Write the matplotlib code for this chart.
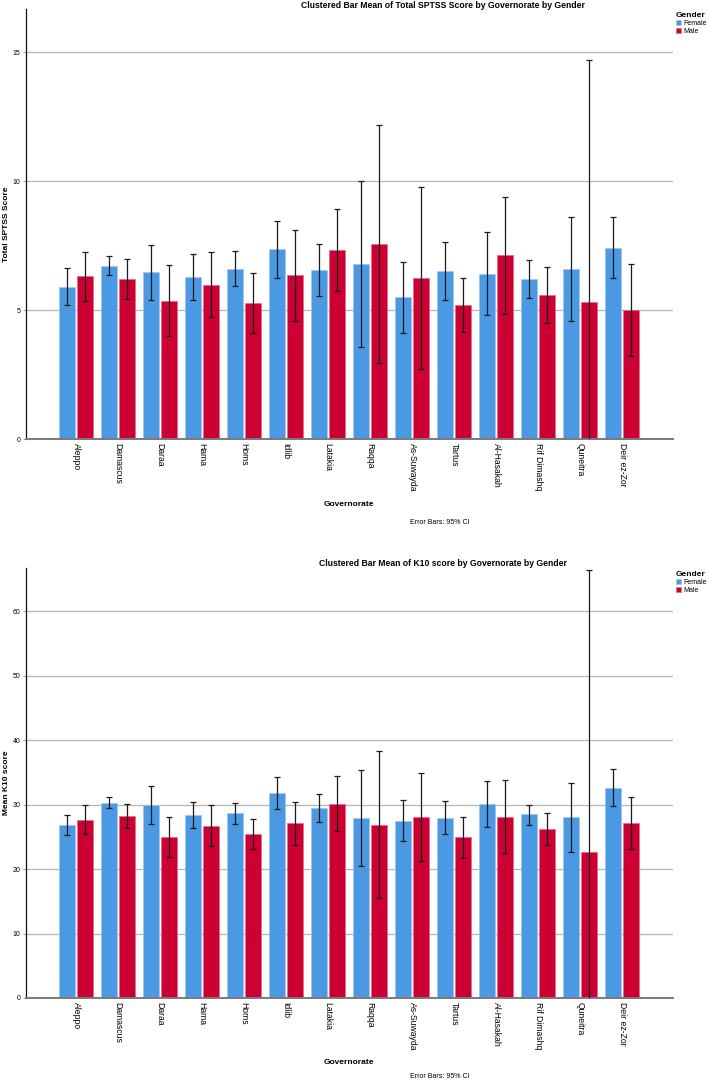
import matplotlib
matplotlib.use("Agg")
import matplotlib.pyplot as plt
import numpy as np

plt.rcParams["font.family"] = ["Liberation Sans", "DejaVu Sans"]

governorates = ["Aleppo", "Damascus", "Daraa", "Hama", "Homs", "Idlib", "Latakia",
                "Raqqa", "As-Suwayda", "Tartus", "Al-Hasakah", "Rif Dimashq",
                "Quneitra", "Deir ez-Zor"]

# Total SPTSS score, mean and 95% CI bounds
sptss_female = [5.90, 6.72, 6.46, 6.27, 6.59, 7.35, 6.55, 6.78, 5.49, 6.50, 6.40, 6.19, 6.59, 7.40]
sptss_female_lo = [5.19, 6.37, 5.39, 5.40, 5.93, 6.25, 5.56, 3.57, 4.10, 5.38, 4.81, 5.48, 4.56, 6.23]
sptss_female_hi = [6.64, 7.09, 7.53, 7.17, 7.27, 8.46, 7.56, 10.01, 6.87, 7.65, 8.01, 6.93, 8.62, 8.62]
sptss_male = [6.30, 6.21, 5.35, 5.96, 5.26, 6.34, 7.31, 7.57, 6.24, 5.18, 7.12, 5.58, 5.32, 4.99]
sptss_male_lo = [5.36, 5.41, 3.98, 4.72, 4.11, 4.56, 5.72, 2.96, 2.70, 4.14, 4.86, 4.50, -4.07, 3.20]
sptss_male_hi = [7.26, 6.99, 6.74, 7.24, 6.43, 8.11, 8.91, 12.18, 9.78, 6.23, 9.39, 6.68, 14.71, 6.77]

# K10 score, mean and 95% CI bounds
k10_female = [26.88, 30.29, 29.98, 28.33, 28.64, 31.84, 29.52, 27.97, 27.50, 27.97, 30.03, 28.48, 28.02, 32.62]
k10_female_lo = [25.22, 29.52, 27.03, 26.42, 27.03, 29.36, 27.35, 20.47, 24.34, 25.43, 26.51, 26.88, 22.70, 29.83]
k10_female_hi = [28.43, 31.17, 32.82, 30.39, 30.24, 34.32, 31.63, 35.41, 30.65, 30.50, 33.70, 29.98, 33.39, 35.51]
k10_male = [27.66, 28.22, 24.96, 26.73, 25.43, 27.13, 30.14, 26.88, 28.06, 24.91, 28.12, 26.26, 22.70, 27.13]
k10_male_lo = [25.38, 26.42, 21.86, 23.52, 23.05, 23.78, 25.95, 15.46, 21.24, 21.71, 22.43, 23.78, -21.0, 23.10]
k10_male_hi = [29.93, 30.08, 28.02, 29.98, 27.81, 30.45, 34.42, 38.30, 34.84, 28.02, 33.80, 28.64, 66.4, 31.12]

FEMALE_COLOR = "#4b99e3"
MALE_COLOR = "#cc0033"

W, H = 709.0, 1083.0


# ----------------------------------------------------------------------
#   Draws one clustered bar panel with 95% CI error bars
# ----------------------------------------------------------------------
def draw_panel(fig, top_px, bottom_px, title, ylabel, ymax, yticks,
               female, female_lo, female_hi, male, male_lo, male_hi,
               gov_px, note_px):
    left_px, right_px = 25.7, 673.0
    ax = fig.add_axes([left_px / W, 1 - bottom_px / H,
                       (right_px - left_px) / W, (bottom_px - top_px) / H])

    x = np.arange(len(governorates))
    off = 0.21
    width = 0.38

    ax.bar(x - off, female, width, color=FEMALE_COLOR, edgecolor="#9cc8f0",
           linewidth=0.5, zorder=2, label="Female")
    ax.bar(x + off, male, width, color=MALE_COLOR, edgecolor="#e46a8a",
           linewidth=0.5, zorder=2, label="Male")

    f_err = [np.array(female) - np.array(female_lo), np.array(female_hi) - np.array(female)]
    m_err = [np.array(male) - np.array(male_lo), np.array(male_hi) - np.array(male)]
    ax.errorbar(x - off, female, yerr=f_err, fmt="none", ecolor="#1a1a1a",
                elinewidth=0.9, capsize=2.4, capthick=0.9, zorder=3)
    ax.errorbar(x + off, male, yerr=m_err, fmt="none", ecolor="#1a1a1a",
                elinewidth=0.9, capsize=2.4, capthick=0.9, zorder=3)

    ax.set_xlim(-1.2, 14.21)
    ax.set_ylim(0, ymax)
    ax.set_yticks(yticks)
    ax.yaxis.grid(True, color="#b4b4b4", linewidth=0.9, zorder=0)
    ax.set_axisbelow(True)

    ax.set_xticks(x)
    ax.set_xticklabels(governorates, rotation=-90, ha="center", va="top",
                       fontsize=6.2)
    ax.tick_params(axis="x", length=0, pad=3)
    ax.tick_params(axis="y", length=2, width=0.6, color="#888888",
                   labelsize=5, pad=2)

    ax.spines["top"].set_visible(False)
    ax.spines["right"].set_visible(False)
    ax.spines["left"].set_color("#111111")
    ax.spines["left"].set_linewidth(0.9)
    ax.spines["bottom"].set_color("#7a7a7a")
    ax.spines["bottom"].set_linewidth(1.4)

    ax.set_ylabel(ylabel, fontsize=6, fontweight="bold")
    ax.yaxis.set_label_coords(-0.024, 0.5)

    fig.text(443 / W, 1 - (top_px - 4) / H, title, ha="center", va="center",
             fontsize=6.2, fontweight="bold")
    fig.text(349 / W, 1 - gov_px / H, "Governorate", ha="center", va="center",
             fontsize=6, fontweight="bold")
    fig.text(440 / W, 1 - note_px / H, "Error Bars: 95% CI", ha="center",
             va="center", fontsize=5)

    leg = ax.legend(loc="upper left", bbox_to_anchor=(676 / W, 1 - (top_px + 3) / H),
                    bbox_transform=fig.transFigure, frameon=False, fontsize=5,
                    title="Gender", handlelength=0.75, handleheight=0.9,
                    handletextpad=0.25, labelspacing=0.1, borderpad=0,
                    borderaxespad=0, alignment="left")
    leg.get_title().set_fontsize(6)
    leg.get_title().set_fontweight("bold")
    return ax


fig = plt.figure(figsize=(W / 100, H / 100), dpi=100)

draw_panel(fig, 9, 439, "Clustered Bar Mean of Total SPTSS Score by Governorate by Gender",
           "Total SPTSS Score", 16.67, [0, 5, 10, 15],
           sptss_female, sptss_female_lo, sptss_female_hi,
           sptss_male, sptss_male_lo, sptss_male_hi, 504, 522)

draw_panel(fig, 568, 998, "Clustered Bar Mean of K10 score by Governorate by Gender",
           "Mean K10 score", 66.7, [0, 10, 20, 30, 40, 50, 60],
           k10_female, k10_female_lo, k10_female_hi,
           k10_male, k10_male_lo, k10_male_hi, 1062, 1077)

fig.savefig("out.png", dpi=100)
